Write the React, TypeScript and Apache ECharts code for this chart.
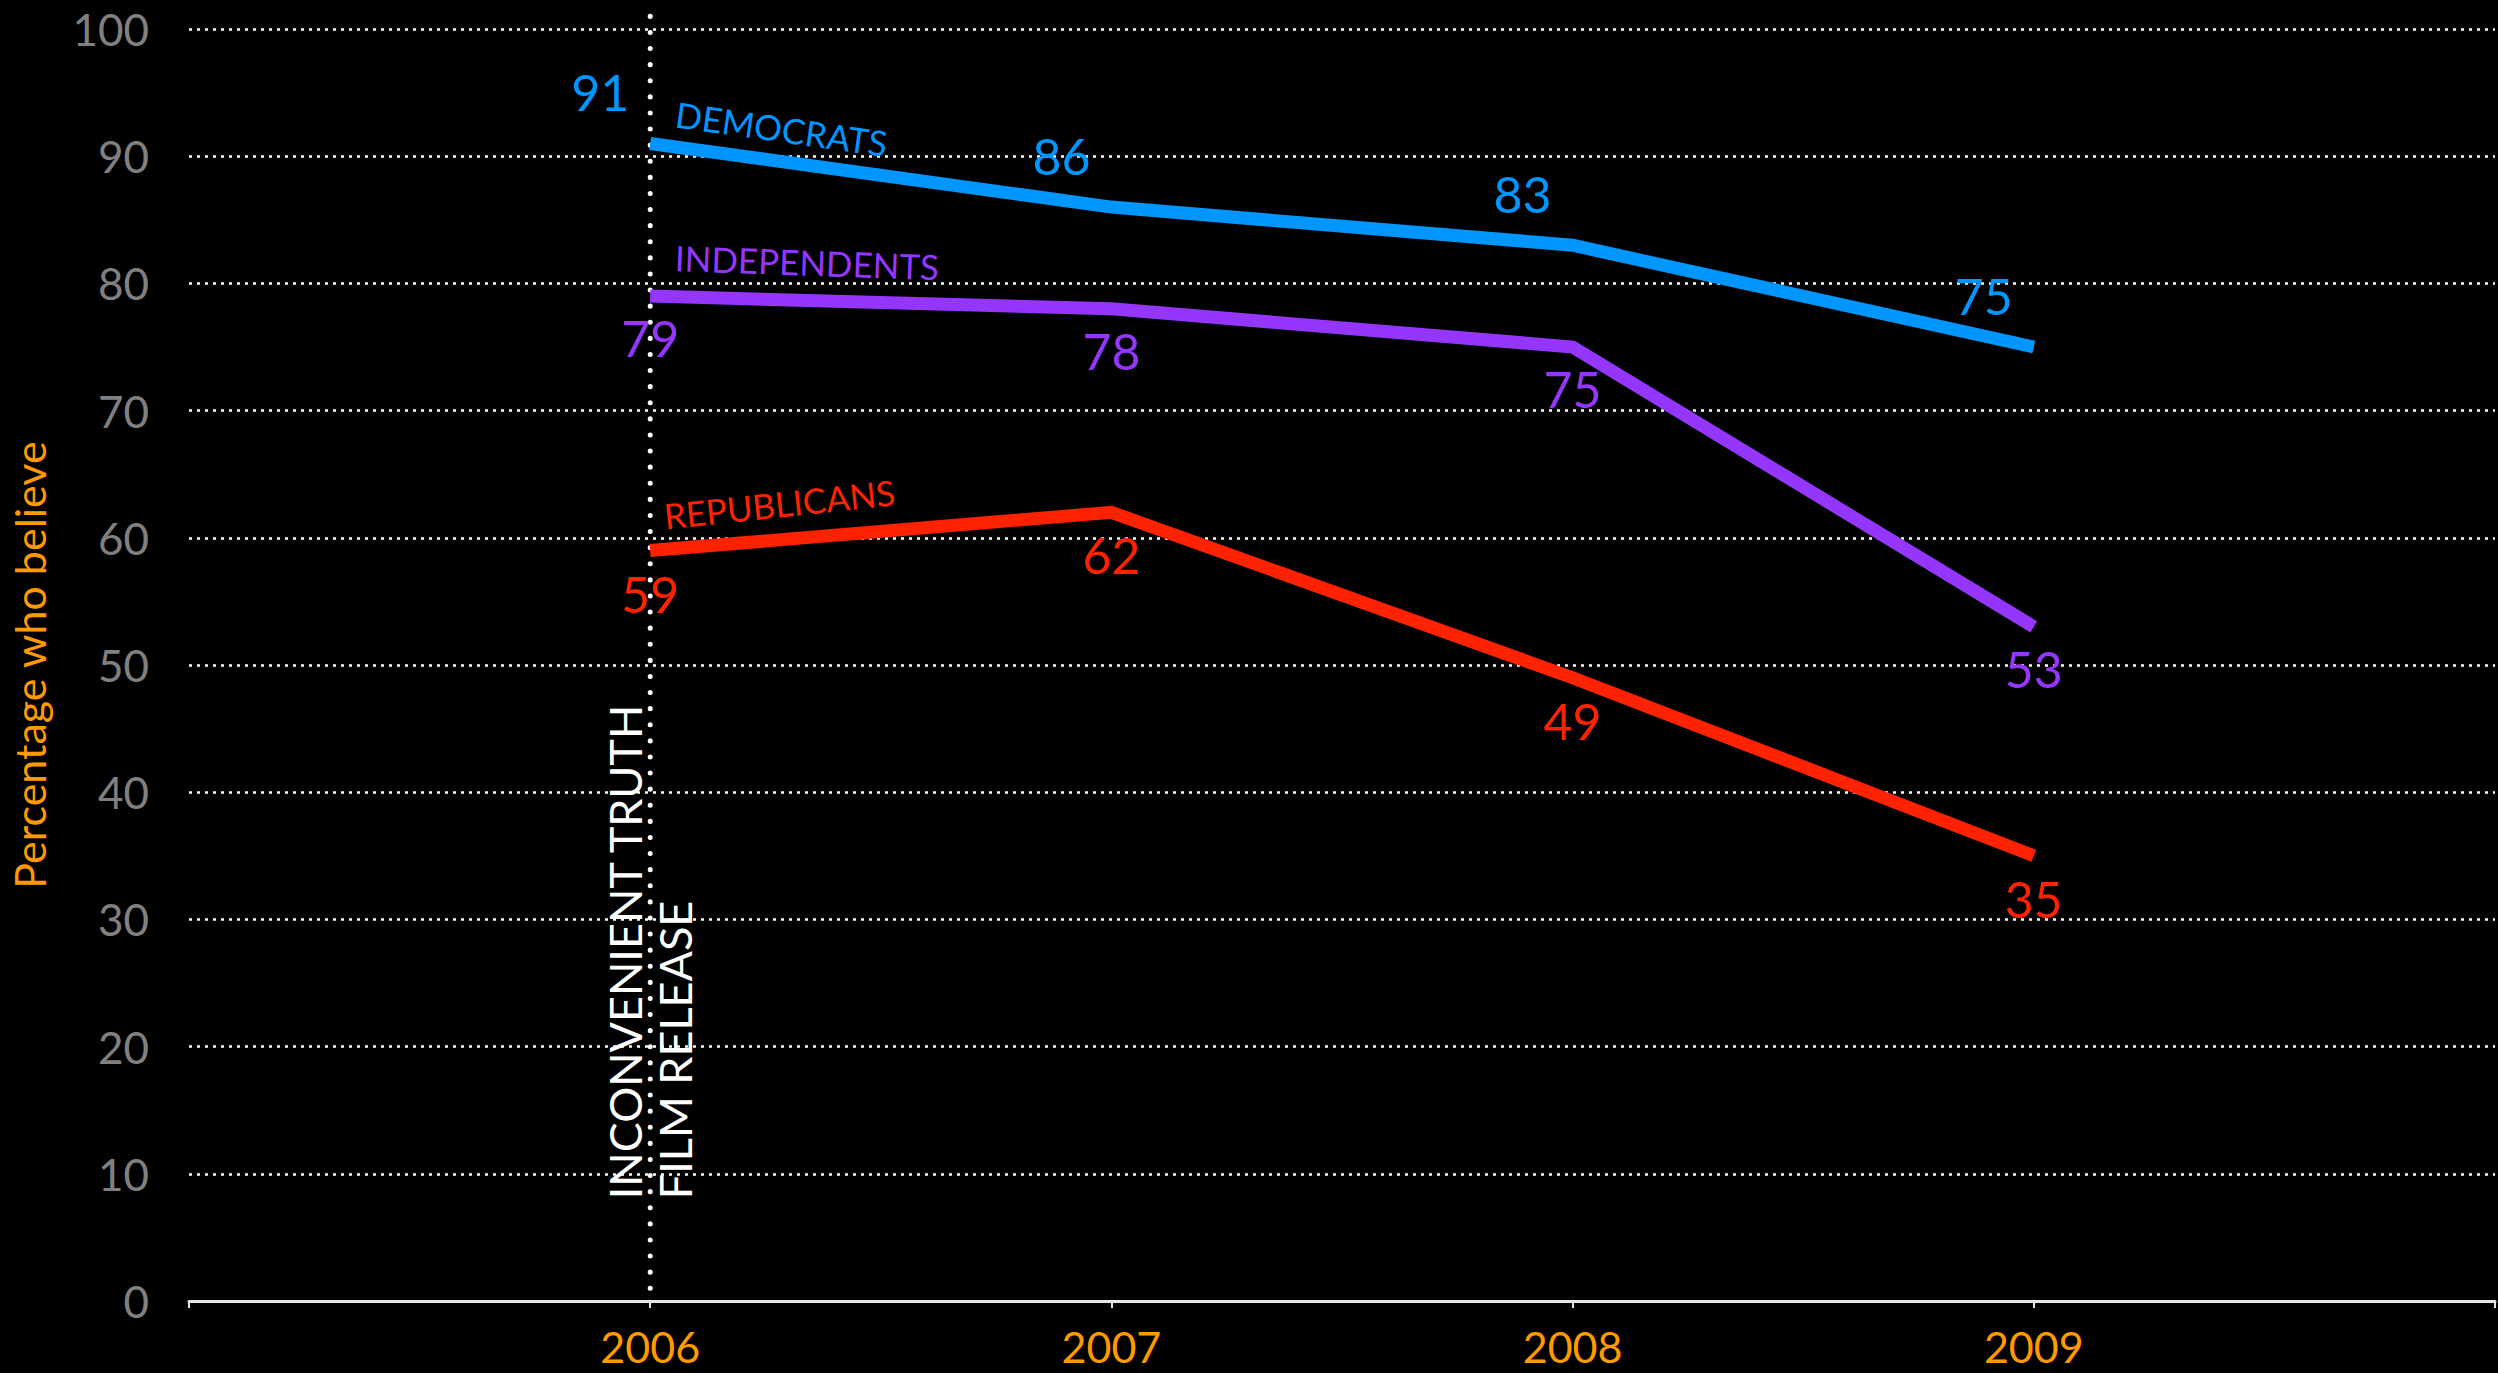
import React, { useEffect, useRef } from "react";
import * as echarts from "echarts";

const years = [2006, 2007, 2008, 2009];
const democrats = [91, 86, 83, 75];
const independents = [79, 78, 75, 53];
const republicans = [59, 62, 49, 35];
const releaseYear = 2006;
const releaseSpan = [101, 1];
const releaseText = "INCONVENIENT TRUTH\nFILM RELEASE";

const FONT = "Lato";
const BLUE = "#0096FF";
const PURPLE = "#9536FF";
const RED = "#FF2200";
const ORANGE = "#FF9900";

function seriesFor(
  name: string,
  values: number[],
  color: string,
  offset: number[],
  tag: { coord: number[]; rotate: number }
) {
  return {
    name,
    type: "line",
    data: years.map((y, i) => [y, values[i]]),
    symbol: "circle",
    symbolSize: 1,
    showSymbol: true,
    itemStyle: { color },
    lineStyle: { color, width: 13, cap: "butt", join: "miter" },
    label: {
      show: true,
      position: "inside",
      offset,
      color,
      fontFamily: FONT,
      fontSize: 50,
      align: "center",
      verticalAlign: "middle",
    },
    markPoint: {
      symbol: "circle",
      symbolSize: 0,
      silent: true,
      data: [
        {
          coord: tag.coord,
          value: name,
          label: {
            show: true,
            position: "inside",
            formatter: name.toUpperCase(),
            color,
            fontFamily: FONT,
            fontSize: 35,
            rotate: tag.rotate,
            align: "center",
            verticalAlign: "middle",
          },
        },
      ],
    },
    z: 3,
  };
}

export default function App() {
  const ref = useRef<HTMLDivElement>(null);
  useEffect(() => {
    if (!ref.current) return;
    const chart = echarts.init(ref.current, null, { renderer: "svg" });
    chart.setOption({
      animation: false,
      backgroundColor: "#000",
      grid: { left: 182, right: 0, top: 29, bottom: 72, containLabel: false },
      xAxis: {
        type: "value",
        min: 2005,
        max: 2010,
        interval: 1,
        axisLine: { show: true, lineStyle: { color: "#e6e6e6", width: 3 } },
        axisTick: { show: true, length: 7, lineStyle: { color: "#e6e6e6", width: 2 } },
        splitLine: { show: false },
        axisLabel: {
          color: ORANGE,
          fontFamily: FONT,
          fontSize: 43,
          lineHeight: 40,
          margin: 25,
          formatter: (v: number) => (years.indexOf(v) >= 0 ? String(v) : ""),
        },
      },
      yAxis: {
        type: "value",
        min: 0,
        max: 100,
        interval: 10,
        name: "Percentage who believe",
        nameLocation: "middle",
        nameGap: 138,
        nameTextStyle: { color: ORANGE, fontFamily: FONT, fontSize: 43 },
        axisLine: { show: false },
        axisTick: { show: false },
        axisLabel: { color: "#808080", fontFamily: FONT, fontSize: 44, margin: 40 },
        splitLine: { show: true, lineStyle: { color: "#ffffff", width: 2.5, type: [3, 5] } },
      },
      series: [
        {
          name: "release",
          type: "line",
          data: releaseSpan.map((v) => [releaseYear, v]),
          symbol: "none",
          clip: false,
          silent: true,
          lineStyle: { color: "#ffffff", width: 5, type: [0.1, 16], cap: "round" },
          markPoint: {
            symbol: "circle",
            symbolSize: 0,
            silent: true,
            data: [
              {
                coord: [releaseYear, 8.0],
                value: 0,
                label: {
                  show: true,
                  position: "inside",
                  formatter: releaseText,
                  color: "#ffffff",
                  fontFamily: FONT,
                  fontSize: 45,
                  lineHeight: 50,
                  rotate: 90,
                  align: "left",
                  verticalAlign: "middle",
                },
              },
            ],
          },
          z: 2,
        },
        seriesFor("Democrats", democrats, BLUE, [-50, -51], { coord: [2006.285, 92.2], rotate: -8 }),
        seriesFor("Independents", independents, PURPLE, [0, 42], { coord: [2006.34, 81.7], rotate: -2 }),
        seriesFor("Republicans", republicans, RED, [0, 43], { coord: [2006.28, 62.7], rotate: 6 }),
      ],
    });
    return () => chart.dispose();
  }, []);
  return (
    <div
      ref={ref}
      style={{ position: "fixed", left: 0, top: 0, width: "100vw", height: "100vh", background: "#000" }}
    />
  );
}
